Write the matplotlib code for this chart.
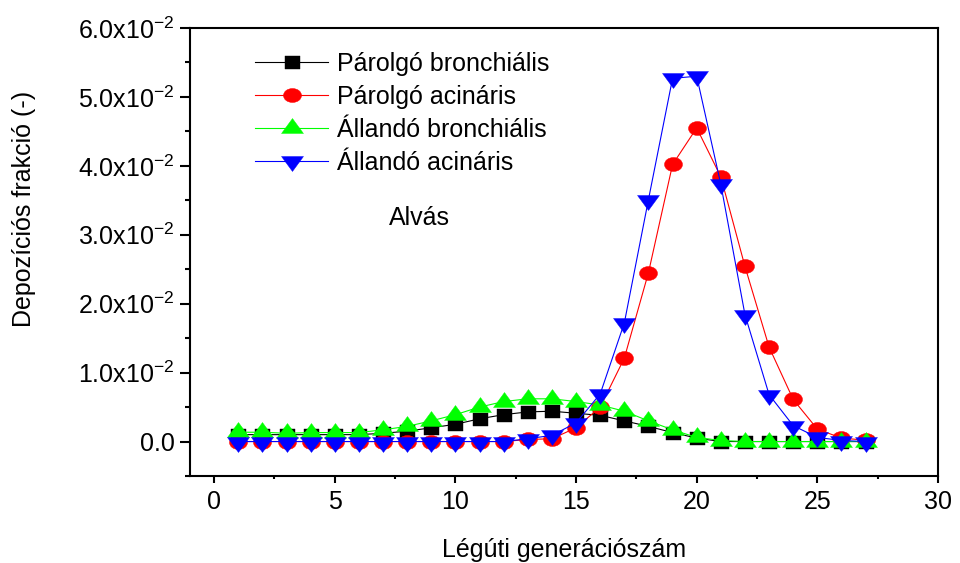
import numpy as np
import matplotlib
matplotlib.use("Agg")
import matplotlib.pyplot as plt
from matplotlib.path import Path

plt.rcParams['font.family'] = ['Liberation Sans', 'DejaVu Sans']
plt.rcParams['mathtext.fontset'] = 'custom'
plt.rcParams['mathtext.rm'] = 'Liberation Sans'

# Airway generation number
generations = list(range(1, 28))

# Deposition fraction per generation (in units of 1e-2)
parolgo_bronchialis = [0.10, 0.10, 0.10, 0.10, 0.10, 0.10, 0.12, 0.15, 0.20, 0.25,
                       0.33, 0.39, 0.43, 0.44, 0.41, 0.38, 0.30, 0.22, 0.13, 0.05,
                       0.00, 0.00, 0.00, 0.00, 0.00, 0.00, 0.00]
parolgo_acinaris = [0.00, 0.00, 0.00, 0.00, 0.00, 0.00, 0.00, 0.00, 0.00, 0.00,
                    0.00, 0.00, 0.03, 0.04, 0.20, 0.50, 1.21, 2.45, 4.02, 4.55,
                    3.84, 2.54, 1.37, 0.61, 0.18, 0.05, 0.02]
allando_bronchialis = [0.135, 0.135, 0.12, 0.13, 0.13, 0.13, 0.17, 0.22, 0.30, 0.39,
                       0.50, 0.58, 0.62, 0.62, 0.58, 0.53, 0.44, 0.30, 0.17, 0.06,
                       0.015, 0.00, 0.00, 0.00, 0.00, 0.00, 0.00]
allando_acinaris = [0.00, 0.00, 0.00, 0.00, 0.00, 0.00, 0.00, 0.00, 0.00, 0.00,
                    0.00, 0.00, 0.04, 0.09, 0.27, 0.69, 1.72, 3.51, 5.27, 5.30,
                    3.73, 1.84, 0.68, 0.23, 0.06, 0.015, 0.00]

series_labels = ['Párolgó bronchiális', 'Párolgó acináris',
                 'Állandó bronchiális', 'Állandó acináris']

y_tick_values = [0.0, 1.0, 2.0, 3.0, 4.0, 5.0, 6.0]
y_tick_labels = ['0.0'] + [r'$\mathregular{%.1fx10^{-2}}$' % v for v in y_tick_values[1:]]


def make_marker(kind):
    # slightly flattened Origin-style symbols, centred on the data point
    if kind == 'square':
        verts = [(-7.5, -6.5), (7.5, -6.5), (7.5, 6.5), (-7.5, 6.5), (-7.5, -6.5)]
        return Path(verts, closed=True)
    if kind == 'ellipse':
        c = Path.unit_circle()
        return Path(c.vertices * np.array([9.0, 7.0]), c.codes)
    if kind == 'up':
        return Path([(0, 10), (-11, -5), (11, -5), (0, 10)], closed=True)
    return Path([(0, -10), (-11, 5), (11, 5), (0, -10)], closed=True)


fig = plt.figure(figsize=(9.6, 5.63), dpi=100)
ax = fig.add_axes([190 / 960, 87 / 563, 748 / 960, 448 / 563])

scale = 1e-2
styles = [
    (parolgo_bronchialis, 'black', 'square', 10.8),
    (parolgo_acinaris, 'red', 'ellipse', 13.0),
    (allando_bronchialis, '#00ff00', 'up', 15.8),
    (allando_acinaris, 'blue', 'down', 15.8),
]
for (vals, color, kind, ms), label in zip(styles, series_labels):
    ax.plot(generations, np.array(vals) * scale, color=color, linewidth=0.8,
            marker=make_marker(kind), markersize=ms, markerfacecolor=color,
            markeredgecolor=color, markeredgewidth=0.3, label=label)

ax.set_xlim(-1, 30)
ax.set_ylim(-0.005, 0.06)
ax.set_xticks([0, 5, 10, 15, 20, 25, 30])
ax.set_xticks(np.arange(2.5, 30, 5), minor=True)
ax.set_yticks(np.array(y_tick_values) * scale)
ax.set_yticklabels(y_tick_labels)
ax.set_yticks(np.arange(-0.005, 0.06, 0.01), minor=True)

for side in ax.spines.values():
    side.set_linewidth(1.5)
ax.tick_params(axis='x', which='major', direction='out', length=5.3, width=1.5,
               labelsize=18, pad=5)
ax.tick_params(axis='x', which='minor', direction='out', length=2.5, width=1.5)
ax.tick_params(axis='y', which='major', direction='out', length=7.2, width=1.5,
               labelsize=18, pad=4)
ax.tick_params(axis='y', which='minor', direction='out', length=3.6, width=1.5)

ax.set_xlabel('Légúti generációszám', fontsize=18)
ax.xaxis.set_label_coords(0.5, -0.138)
ax.set_ylabel('Depozíciós frakció (-)', fontsize=18)
ax.yaxis.set_label_coords(-0.206, 0.596)

ax.text(8.5, 3.24e-2, 'Alvás', fontsize=18, ha='center', va='center')

ax.legend(loc='upper left', bbox_to_anchor=(0.0869, 0.946), frameon=False,
          fontsize=18, handlelength=2.92, handletextpad=0.36, labelspacing=0.36,
          borderpad=0, borderaxespad=0, numpoints=1)

fig.savefig('out.png', dpi=100)
